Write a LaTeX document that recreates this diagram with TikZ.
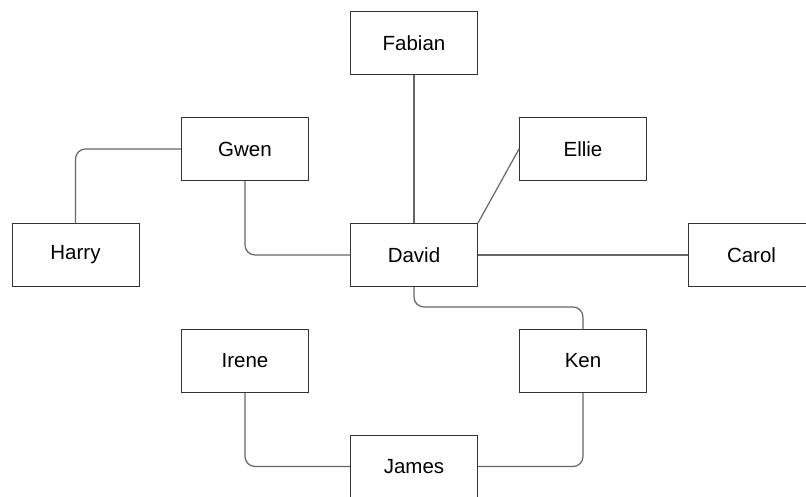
\documentclass[tikz,border=0pt]{standalone}
\usepackage{fontspec}
\setmainfont{Liberation Sans}
\begin{document}
\begin{tikzpicture}[x=1pt,y=-1pt,
  person/.style={draw=black!80,line width=1pt,minimum width=127pt,minimum height=63pt,inner sep=0pt,font=\fontsize{20.5}{24}\selectfont,fill=white},
  label text/.style={inner sep=0pt,font=\fontsize{20.5}{24}\selectfont},
  link/.style={draw=black!60,line width=1.2pt,rounded corners=10pt}]
\useasboundingbox (0,0) rectangle (806,497);
\clip (0,0) rectangle (806,497);
\node[person] (fabian) at (414,43.5) {Fabian};
\node[person] (ellie) at (583,149) {Ellie};
\node[person] (gwen) at (245,149) {Gwen};
\node[person] (harry) at (75.5,255) {Harry};
\node[person] (david) at (414,255) {David};
\node[person,minimum width=150pt,anchor=west] (carol) at (688,255) {};
\node[label text] (caroltext) at (751.5,255) {Carol};
\node[person] (irene) at (245,361) {Irene};
\node[person] (ken) at (583,361) {Ken};
\node[person,minimum height=80pt,anchor=north] (james) at (414,435) {};
\node[label text] (jamestext) at (414,466.5) {James};
\draw[link] (fabian.south) -- (david.north);
\draw[link] (david.north east) -- (ellie.west);
\draw[link] (david.east) -- (carol.west);
\draw[link] (gwen.west) -| (harry.north);
\draw[link] (gwen.south) |- (david.west);
\draw[link] (david.south) -- ++(0,20) -| (ken.north);
\draw[link] (irene.south) |- (jamestext.west -| james.west);
\draw[link] (jamestext.east -| james.east) -| (ken.south);
\end{tikzpicture}
\end{document}
